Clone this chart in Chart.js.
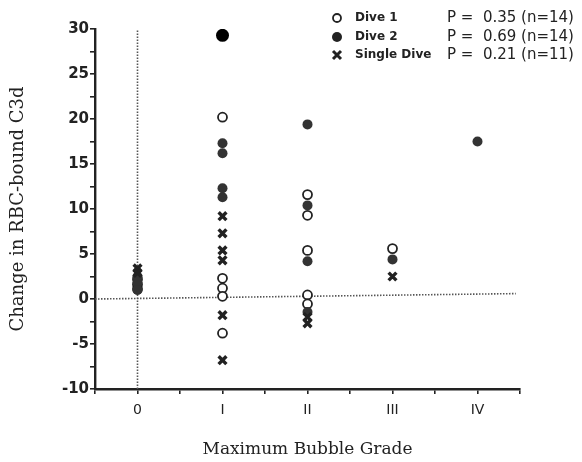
<!DOCTYPE html>
<html>
<head>
<meta charset="utf-8">
<script src="https://cdn.jsdelivr.net/npm/chart.js@4.4.0/dist/chart.umd.min.js"></script>
<style>
  body { margin: 0; background: #fff; }
  #wrap { width: 582px; height: 462px; }
</style>
</head>
<body>
<div id="wrap"><canvas id="c3dChart" width="582" height="462"></canvas></div>
<script>
// grade labels shown under the x axis (0..4)
const grades = ["0", "I", "II", "III", "IV"];

// Dive 1 (open circles)
const dive1X = [0, 0, 0, 1, 1, 1, 1, 1, 2, 2, 2, 2, 2, 3];
const dive1Y = [2.2, 1.6, 1.1, 20.2, 2.3, 1.2, 0.3, -3.8, 11.6, 9.3, 5.4, 0.45, -0.55, 5.6];

// Dive 2 (filled circles)
const dive2X = [0, 0, 0, 1, 1, 1, 1, 1, 2, 2, 2, 2, 3, 4];
const dive2Y = [2.5, 1.8, 1.0, 29.3, 17.3, 16.2, 12.3, 11.3, 19.4, 10.4, 4.2, -1.45, 4.4, 17.5];

// Single dive (crosses)
const singleX = [0, 0, 1, 1, 1, 1, 1, 1, 2, 2, 3];
const singleY = [3.4, 2.9, 9.2, 7.3, 5.4, 4.3, -1.8, -6.8, -2.0, -2.7, 2.5];

// legend text
const seriesNames = ["Dive 1", "Dive 2", "Single Dive"];
const pValues = ["0.35", "0.69", "0.21"];
const nValues = [14, 14, 11];

// dotted reference lines
const fitLineX = [-0.5, 4.45];
const fitLineY = [0, 0.6];
const zeroLineX = [0, 0];
const zeroLineY = [-10, 30.3];

function pts(xs, ys) {
  return xs.map((x, i) => ({ x: x, y: ys[i] }));
}

const ink = "#222";

const legendPlugin = {
  id: "diveLegend",
  afterDraw(chart) {
    const ctx = chart.ctx;
    ctx.save();
    const rowY = [18, 37, 55];
    seriesNames.forEach((name, i) => {
      const y = rowY[i];
      const mx = 337;
      ctx.strokeStyle = ink;
      ctx.fillStyle = ink;
      if (i === 0) {
        ctx.lineWidth = 1.8;
        ctx.beginPath();
        ctx.arc(mx, y, 4, 0, Math.PI * 2);
        ctx.fillStyle = "#fff";
        ctx.fill();
        ctx.stroke();
      } else if (i === 1) {
        ctx.beginPath();
        ctx.arc(mx, y, 5, 0, Math.PI * 2);
        ctx.fill();
      } else {
        ctx.lineWidth = 3;
        ctx.beginPath();
        ctx.moveTo(mx - 4, y - 4);
        ctx.lineTo(mx + 4, y + 4);
        ctx.moveTo(mx + 4, y - 4);
        ctx.lineTo(mx - 4, y + 4);
        ctx.stroke();
      }
      ctx.fillStyle = ink;
      ctx.textBaseline = "middle";
      ctx.textAlign = "left";
      ctx.font = "bold 12px 'DejaVu Sans'";
      ctx.fillText(name, 355, y);
      ctx.font = "15px 'DejaVu Sans'";
      ctx.fillText("P =  " + pValues[i] + " (n=" + nValues[i] + ")", 447, y);
    });
    ctx.restore();
  }
};

const ctx = document.getElementById("c3dChart").getContext("2d");

new Chart(ctx, {
  type: "scatter",
  data: {
    datasets: [
      {
        label: "Single Dive",
        data: pts(singleX, singleY),
        pointStyle: "crossRot",
        pointRadius: 5.5,
        pointBorderWidth: 3.4,
        borderColor: ink,
        backgroundColor: ink,
        order: 1
      },
      {
        label: "Dive 2",
        data: pts(dive2X, dive2Y),
        pointStyle: "circle",
        pointRadius: c => (c.raw && c.raw.y > 25 ? 6.5 : 5),
        pointBorderWidth: 0,
        borderColor: "#333",
        backgroundColor: c => (c.raw && c.raw.y > 25 ? "#000" : "#333"),
        order: 2
      },
      {
        label: "Dive 1",
        data: pts(dive1X, dive1Y),
        pointStyle: "circle",
        pointRadius: 4.5,
        pointBorderWidth: 1.8,
        borderColor: ink,
        backgroundColor: "#fff",
        order: 3
      },
      {
        type: "line",
        label: "fit",
        data: pts(fitLineX, fitLineY),
        borderColor: "#555",
        borderWidth: 1.6,
        borderDash: [1.5, 1.5],
        pointRadius: 0,
        fill: false,
        order: 10
      },
      {
        type: "line",
        label: "zero",
        data: pts(zeroLineX, zeroLineY),
        borderColor: "#555",
        borderWidth: 1.6,
        borderDash: [1.5, 1.5],
        pointRadius: 0,
        fill: false,
        order: 10
      }
    ]
  },
  options: {
    responsive: false,
    animation: false,
    layout: { padding: { top: 29, right: 62, left: 0, bottom: 0 } },
    plugins: {
      legend: { display: false },
      tooltip: { enabled: false }
    },
    scales: {
      x: {
        type: "linear",
        min: -0.5,
        max: 4.5,
        afterFit(scale) { scale.height = 73; },
        ticks: {
          stepSize: 0.5,
          autoSkip: false,
          maxRotation: 0,
          padding: 8,
          color: ink,
          font: { family: "DejaVu Sans", size: 14 },
          callback: v => (Number.isInteger(v) && v >= 0 ? grades[v] : "")
        },
        grid: { drawOnChartArea: false, drawTicks: true, tickLength: 5, color: ink, lineWidth: 1.6 },
        border: { display: true, color: ink, width: 2.4 },
        title: {
          display: true,
          text: "Maximum Bubble Grade",
          color: ink,
          font: { family: "DejaVu Serif", size: 17 },
          padding: { top: 0, bottom: 2 }
        }
      },
      y: {
        min: -10,
        max: 30,
        afterFit(scale) { scale.width = 95; },
        ticks: {
          stepSize: 2.5,
          autoSkip: false,
          padding: 1,
          color: ink,
          font: { family: "DejaVu Sans", size: 15, weight: "bold" },
          callback: v => (v % 5 === 0 ? v : "")
        },
        grid: { drawOnChartArea: false, drawTicks: true, tickLength: 5, color: ink, lineWidth: 1.6 },
        border: { display: true, color: ink, width: 2.4 },
        title: {
          display: true,
          text: "Change in RBC-bound C3d",
          color: ink,
          font: { family: "DejaVu Serif", size: 18 },
          padding: { top: 8, bottom: 0 }
        }
      }
    }
  },
  plugins: [legendPlugin]
});
</script>
</body>
</html>
